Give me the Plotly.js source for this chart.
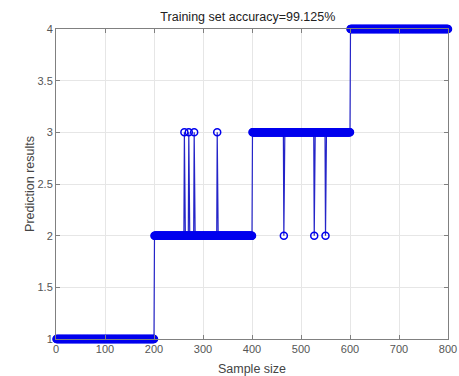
<!DOCTYPE html>
<html>
<head>
<meta charset="utf-8">
<script src="https://cdn.plot.ly/plotly-3.0.1.min.js"></script>
<style>html,body{margin:0;padding:0;background:#fff;}#chart{width:459px;height:376px;}</style>
</head>
<body>
<div id="chart"></div>
<script>
// True class labels and samples per class block
const classLabels = [1, 2, 3, 4];
const samplesPerClass = 200;
// Misclassified samples (sample index -> predicted class)
const errorIndex = [262, 271, 282, 329, 465, 527, 550];
const errorPred  = [3, 3, 3, 3, 2, 2, 2];
const xTicks = [0, 100, 200, 300, 400, 500, 600, 700, 800];
const yTicks = [1, 1.5, 2, 2.5, 3, 3.5, 4];

const xs = [], ys = [];
classLabels.forEach((c, k) => {
  for (let i = 1; i <= samplesPerClass; i++) {
    xs.push(k * samplesPerClass + i);
    ys.push(c);
  }
});
errorIndex.forEach((idx, j) => { ys[idx - 1] = errorPred[j]; });

const trace = {
  x: xs, y: ys, type: 'scatter', mode: 'lines+markers',
  line: {color: '#2424c8', width: 1.2},
  marker: {symbol: 'circle-open', size: 7, color: '#0000ee', line: {width: 1.5, color: '#0000ee'}},
  cliponaxis: false, hoverinfo: 'none'
};

const axisFont = {family: 'Liberation Sans, Arial, sans-serif', size: 11, color: '#555'};
const layout = {
  width: 459, height: 376,
  margin: {l: 56, r: 11, t: 29, b: 37},
  paper_bgcolor: '#fff', plot_bgcolor: '#fff',
  showlegend: false,
  title: {text: 'Training set accuracy=99.125%', x: 0.54, xanchor: 'center', y: 0.955, yanchor: 'middle',
          font: {family: 'Liberation Sans, Arial, sans-serif', size: 12.5, color: '#222'}},
  xaxis: {
    range: [0, 800], tickvals: xTicks, ticktext: xTicks.map(String),
    showgrid: true, gridcolor: '#e6e6e6', gridwidth: 1,
    showline: true, linecolor: '#808080', linewidth: 1, mirror: 'ticks',
    ticks: 'inside', ticklen: 4, tickcolor: '#808080',
    zeroline: false, tickfont: axisFont,
    title: {text: 'Sample size', font: {family: 'Liberation Sans, Arial, sans-serif', size: 12.5, color: '#444'}, standoff: 10}
  },
  yaxis: {
    range: [1, 4], tickvals: yTicks, ticktext: yTicks.map(String),
    showgrid: true, gridcolor: '#e6e6e6', gridwidth: 1,
    showline: true, linecolor: '#808080', linewidth: 1, mirror: 'ticks',
    ticks: 'inside', ticklen: 4, tickcolor: '#808080',
    zeroline: false, tickfont: axisFont,
    title: {text: 'Prediction results', font: {family: 'Liberation Sans, Arial, sans-serif', size: 12.5, color: '#444'}, standoff: 0}
  }
};

Plotly.newPlot('chart', [trace], layout, {displayModeBar: false, staticPlot: true});
</script>
</body>
</html>
